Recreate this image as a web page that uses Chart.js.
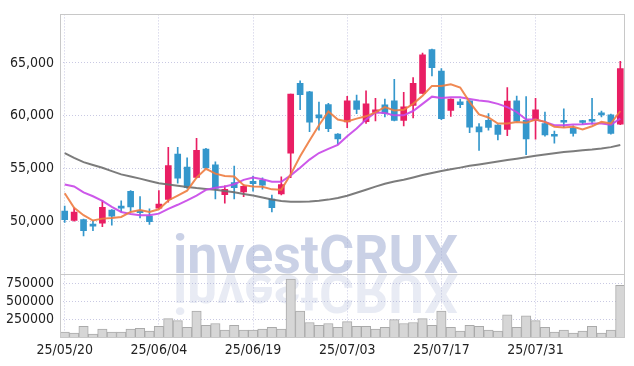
<!DOCTYPE html>
<html>
<head>
<meta charset="utf-8">
<script src="https://cdn.jsdelivr.net/npm/chart.js@4.4.1/dist/chart.umd.min.js"></script>
<style>
  html, body { margin: 0; padding: 0; background: #fff; }
  #wrap { width: 634px; height: 366px; }
</style>
</head>
<body>
<div id="wrap"><canvas id="chart"></canvas></div>
<script>
// trading days shown on the chart
const dates = [
  "25/05/20", "25/05/21", "25/05/22", "25/05/23", "25/05/26", "25/05/27", "25/05/28", "25/05/29", "25/05/30", "25/06/02",
  "25/06/04", "25/06/05", "25/06/09", "25/06/10", "25/06/11", "25/06/12", "25/06/13", "25/06/16", "25/06/17", "25/06/18",
  "25/06/19", "25/06/20", "25/06/23", "25/06/24", "25/06/25", "25/06/26", "25/06/27", "25/06/30", "25/07/01", "25/07/02",
  "25/07/03", "25/07/04", "25/07/07", "25/07/08", "25/07/09", "25/07/10", "25/07/11", "25/07/14", "25/07/15", "25/07/16",
  "25/07/17", "25/07/18", "25/07/21", "25/07/22", "25/07/23", "25/07/24", "25/07/25", "25/07/28", "25/07/29", "25/07/30",
  "25/07/31", "25/08/01", "25/08/04", "25/08/05", "25/08/06", "25/08/07", "25/08/08", "25/08/11", "25/08/12", "25/08/13",
];
const tickDates = ["25/05/20", "25/06/04", "25/06/19", "25/07/03", "25/07/17", "25/07/31"];
const priceTicks = [50000, 55000, 60000, 65000];
const volumeTicks = [250000, 500000, 750000];

const opens = [
  50970, 50070, 50160, 49730, 49830, 51060, 51440, 52830, 51000, 50500,
  51250, 52060, 56370, 55130, 54160, 56840, 55350, 52530, 53670, 52770,
  53790, 53880, 52090, 52580, 56440, 63070, 62260, 60090, 61050, 58260,
  59410, 61400, 59440, 60310, 61030, 61400, 59560, 60960, 62110, 66270,
  64220, 60490, 61300, 61400, 58950, 59560, 59100, 58700, 61400, 59560,
  59560, 59260, 58200, 59440, 58790, 59510, 59540, 60190, 60090, 59190,
];
const highs = [
  51440, 51280, 50200, 50040, 51970, 51100, 51930, 52900, 52340, 51180,
  52900, 56990, 56990, 56000, 57860, 56900, 55630, 53360, 55230, 53480,
  54290, 54110, 52490, 54200, 62050, 63290, 62300, 61280, 61180, 58300,
  61840, 61960, 62360, 61650, 61560, 63450, 62210, 63600, 65930, 66300,
  64470, 61600, 61560, 61400, 59260, 60190, 59150, 62670, 61860, 61800,
  61650, 60350, 58540, 60650, 59040, 59560, 61650, 60440, 60150, 65150,
];
const lows = [
  49880, 50000, 48620, 49110, 49480, 49640, 50880, 50880, 50320, 49690,
  51200, 51810, 53610, 53100, 54100, 55000, 52120, 51720, 52120, 52340,
  52860, 53050, 50880, 52500, 54140, 60560, 58480, 58630, 58480, 57300,
  58860, 60190, 59260, 59510, 59880, 59510, 59040, 59790, 62100, 63770,
  59630, 59940, 60750, 58390, 56710, 58630, 57700, 58110, 59400, 56300,
  57770, 58070, 57390, 58880, 58070, 59190, 59190, 59880, 58250, 59150,
];
const closes = [
  50160, 50880, 49110, 49530, 51310, 50480, 51250, 51370, 50810, 49970,
  51620, 55280, 54070, 53180, 56710, 55040, 53110, 53020, 53180, 53300,
  53550, 53420, 51280, 53480, 62050, 61980, 59380, 59790, 58760, 57790,
  61400, 60590, 61120, 60560, 60220, 59560, 60840, 63070, 65770, 64540,
  59720, 61580, 61030, 58910, 58450, 58880, 58230, 61370, 59470, 57790,
  60560, 58170, 58050, 59380, 58330, 59350, 59470, 60070, 58330, 64470,
];
const ma5 = [
  52650, 51280, 50570, 50070, 50250, 50320, 50410, 50880, 51060, 50880,
  51130, 51970, 52430, 52900, 54140, 54970, 54510, 54290, 54230, 53420,
  53300, 53270, 53020, 52990, 54440, 56160, 57650, 59100, 60400, 59630,
  59450, 59720, 59940, 60310, 60810, 60490, 60560, 61120, 61890, 62820,
  62820, 62980, 62670, 61280, 60120, 59830, 59260, 59260, 59410, 59320,
  59630, 59410, 58950, 58880, 58950, 58700, 59000, 59410, 59260, 60440,
];
const ma20 = [
  53480, 53300, 52740, 52370, 51930, 51370, 50880, 50690, 50570, 50570,
  50720, 51180, 51560, 51970, 52430, 52970, 53180, 53300, 53510, 53920,
  54140, 53980, 53740, 53740, 54350, 55070, 55840, 56460, 56860, 57240,
  58050, 58790, 59630, 60310, 60250, 60030, 60030, 60440, 61120, 61800,
  61680, 61740, 61740, 61580, 61430, 61350, 61120, 60810, 60350, 59630,
  59630, 59410, 59100, 59100, 59160, 59190, 59260, 59260, 59140, 59720,
];
const ma60 = [
  56460, 56000, 55600, 55330, 55070, 54750, 54440, 54230, 54040, 53820,
  53600, 53480, 53360, 53250, 53140, 53060, 52990, 52860, 52740, 52590,
  52430, 52250, 52060, 51920, 51850, 51840, 51880, 51950, 52050, 52200,
  52420, 52700, 52980, 53280, 53560, 53760, 53930, 54150, 54380, 54580,
  54760, 54920, 55080, 55250, 55380, 55520, 55660, 55800, 55920, 56060,
  56200, 56330, 56450, 56550, 56640, 56720, 56790, 56890, 57020, 57230,
];
const volumes = [
  69000, 56000, 149000, 42000, 109000, 69000, 69000, 109000, 122000, 82000,
  149000, 255000, 228000, 135000, 361000, 162000, 188000, 95000, 162000, 95000,
  95000, 109000, 135000, 109000, 806000, 361000, 202000, 162000, 188000, 135000,
  215000, 149000, 149000, 109000, 135000, 241000, 188000, 202000, 255000, 162000,
  361000, 135000, 82000, 162000, 149000, 95000, 82000, 308000, 135000, 295000,
  228000, 135000, 69000, 95000, 56000, 82000, 149000, 56000, 95000, 719000,
];

const upColor = "#e91e63";
const downColor = "#3497cc";
const gridColor = "#c9c9e3";
const tickFont = { family: "'DejaVu Sans Condensed', 'Liberation Sans Narrow', Roboto, sans-serif", size: 14 };

let candleColors = opens.map((o, i) => (closes[i] >= o ? upColor : downColor));

// watermark + frame lines
const chartDecor = {
  id: "chartDecor",
  beforeDatasetsDraw(chart) {
    let ctx = chart.ctx;
    let base = chart.scales.y.bottom;
    ctx.save();
    ctx.font = "bold 53px Roboto, sans-serif";
    let w = ctx.measureText("investCRUX").width;
    let sx = 285 / w;
    ctx.translate(173, base);
    ctx.scale(sx, 1);
    ctx.textBaseline = "alphabetic";
    ctx.fillStyle = "rgba(150,163,205,0.5)";
    ctx.fillText("investCRUX", 0, -1);
    ctx.scale(1, -1);
    ctx.fillStyle = "rgba(150,163,205,0.22)";
    ctx.fillText("investCRUX", 0, -1);
    ctx.restore();
  },
  afterDatasetsDraw(chart) {
    let ctx = chart.ctx;
    let a = chart.chartArea;
    ctx.save();
    ctx.strokeStyle = "#c8c8c8";
    ctx.lineWidth = 1;
    ctx.strokeRect(Math.round(a.left) + 0.5, Math.round(a.top) + 0.5, Math.round(a.right - a.left) - 1, Math.round(a.bottom - a.top));
    let sy = Math.round(chart.scales.y.bottom) + 0.5;
    ctx.beginPath();
    ctx.moveTo(a.left, sy);
    ctx.lineTo(a.right, sy);
    ctx.stroke();
    ctx.restore();
  },
};

renderStockChart();

function renderStockChart() {
  let el = document.querySelector("#chart");
  let stockChart = new Chart(el, {
    type: "bar",
    data: {
      labels: dates,
      datasets: [
        {
          type: "line",
          label: "MA5",
          data: ma5,
          borderColor: "rgba(238,124,64,0.9)",
          borderWidth: 2,
          pointRadius: 0,
          yAxisID: "y",
          order: 0,
        },
        {
          type: "line",
          label: "MA20",
          data: ma20,
          borderColor: "rgba(200,70,232,0.9)",
          borderWidth: 2,
          pointRadius: 0,
          yAxisID: "y",
          order: 0,
        },
        {
          type: "line",
          label: "MA60",
          data: ma60,
          borderColor: "rgba(110,110,110,0.9)",
          borderWidth: 2,
          pointRadius: 0,
          yAxisID: "y",
          order: 0,
        },
        {
          label: "body",
          data: opens.map((o, i) => [o, closes[i]]),
          backgroundColor: candleColors,
          barThickness: 6,
          minBarLength: 2,
          grouped: false,
          yAxisID: "y",
          order: 1,
        },
        {
          label: "wick",
          data: lows.map((l, i) => [l, highs[i]]),
          backgroundColor: candleColors,
          barThickness: 1,
          grouped: false,
          yAxisID: "y",
          order: 2,
        },
        {
          label: "volume",
          data: volumes,
          backgroundColor: "#d6d6d6",
          borderColor: "#aaaaaa",
          borderWidth: 1,
          categoryPercentage: 1,
          barPercentage: 1,
          grouped: false,
          yAxisID: "yv",
          order: 3,
        },
      ],
    },
    options: {
      responsive: true,
      maintainAspectRatio: false,
      animation: false,
      layout: { padding: { top: 9, right: 9, left: 0, bottom: 0 } },
      plugins: { legend: { display: false }, tooltip: { enabled: false } },
      scales: {
        x: {
          offset: true,
          grid: {
            offset: false,
            drawTicks: false,
            color: (c) => (tickDates.includes(dates[c.index]) ? gridColor : "rgba(0,0,0,0)"),
          },
          border: { display: false, dash: [1, 2] },
          ticks: {
            autoSkip: false,
            maxRotation: 0,
            padding: 5,
            color: "#222",
            font: tickFont,
            callback: (v, i) => (tickDates.includes(dates[i]) ? dates[i] : ""),
          },
          afterFit: (scale) => {
            scale.height = 29;
          },
        },
        // volume axis listed first so it is stacked below the price axis
        yv: {
          stack: "main",
          stackWeight: 1,
          min: 0,
          max: 880000,
          grid: { color: gridColor, drawTicks: false },
          border: { display: false, dash: [1, 2] },
          ticks: {
            autoSkip: false,
            padding: 6,
            color: "#222",
            font: tickFont,
            callback: (v) => String(v),
          },
          afterBuildTicks: (scale) => {
            scale.ticks = volumeTicks.map((v) => ({ value: v }));
          },
          afterFit: (scale) => {
            scale.width = 60;
          },
        },
        y: {
          stack: "main",
          stackWeight: 4.1,
          min: 45030,
          max: 69590,
          grid: { color: gridColor, drawTicks: false },
          border: { display: false, dash: [1, 2] },
          ticks: {
            padding: 6,
            color: "#222",
            font: tickFont,
            callback: (v) => v.toLocaleString("en-US"),
          },
          afterBuildTicks: (scale) => {
            scale.ticks = priceTicks.map((v) => ({ value: v }));
          },
          afterFit: (scale) => {
            scale.width = 60;
          },
        },
      },
    },
    plugins: [chartDecor],
  });
}
</script>
</body>
</html>
